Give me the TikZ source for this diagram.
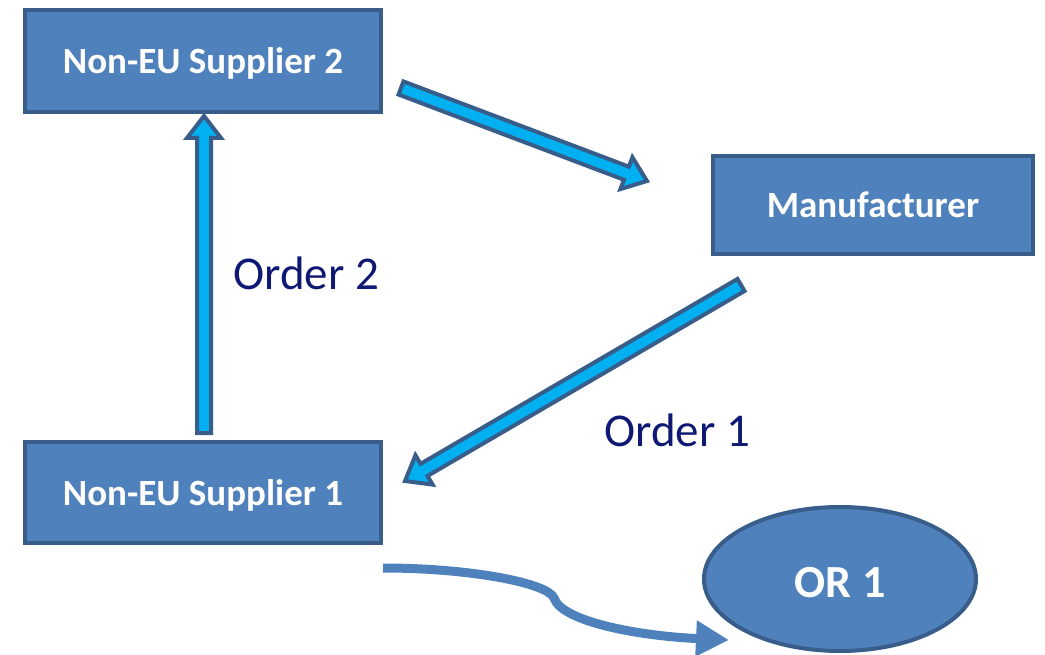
\documentclass[tikz,border=0pt]{standalone}
\usepackage{fontspec}
\setmainfont{Carlito}
\usetikzlibrary{calc,arrows.meta,shapes.geometric}
\definecolor{boxfill}{RGB}{79,129,189}
\definecolor{boxline}{RGB}{56,93,138}
\definecolor{arrowfill}{RGB}{0,176,240}
\definecolor{navytext}{RGB}{15,25,115}
\tikzset{
  boxnode/.style={draw=boxline, fill=boxfill, line width=4pt, text=white,
    font=\bfseries\fontsize{37}{40}\selectfont, inner sep=0pt,
    text height=25pt, text depth=0pt},
  ovalnode/.style={draw=boxline, fill=boxfill, line width=4pt, text=white,
    font=\bfseries\fontsize{46}{50}\selectfont, ellipse, inner sep=0pt,
    text height=36pt, text depth=0pt},
  ordertext/.style={text=navytext, font=\fontsize{47}{50}\selectfont, inner sep=0pt, anchor=base},
  blockarrowstyle/.style={draw=boxline, fill=arrowfill, line width=4pt, line join=miter},
  curvearrow/.style={draw=boxfill, line width=9pt, -{Triangle[length=33pt,width=34pt]}}
}
\newcommand\blockarrow[2]{%
  \draw[blockarrowstyle] let \p1=($(#2)-(#1)$), \n1={atan2(\y1,\x1)}, \n2={veclen(\x1,\y1)} in
    [shift={(#1)}, rotate=\n1]
    (0pt,-7pt) -- (\n2-22pt,-7pt) -- (\n2-22pt,-17pt) -- (\n2,0pt) --
    (\n2-22pt,17pt) -- (\n2-22pt,7pt) -- (0pt,7pt) -- cycle;}
\begin{document}
\begin{tikzpicture}[x=1pt,y=-1pt]
\useasboundingbox (0,0) rectangle (1045,655);
\node[boxnode, minimum width=356pt, minimum height=102pt] (s2) at (203,61) {Non-EU Supplier 2};
\node[boxnode, minimum width=320pt, minimum height=98pt] (man) at (873,205) {Manufacturer};
\node[boxnode, minimum width=356pt, minimum height=101pt] (s1) at (203,492.5) {Non-EU Supplier 1};
\node[ovalnode, minimum width=272pt, minimum height=144pt] (or) at (840,579) {OR 1};
\node[ordertext] (o2) at (306,290) {Order 2};
\node[ordertext] (o1) at (677,446) {Order 1};
% block arrows
\coordinate (a1s) at ($(s1.north)+(1,-7)$);
\coordinate (a1e) at ($(s2.south)+(1,2)$);
\coordinate (a2s) at (401,88);
\coordinate (a2e) at (647,181);
\coordinate (a3s) at (741,285);
\coordinate (a3e) at (405,481);
\blockarrow{a1s}{a1e}
\blockarrow{a2s}{a2e}
\blockarrow{a3s}{a3e}
% curved arrow
\coordinate (cs) at (383,568);
\coordinate (ce) at (729,640);
\draw[curvearrow] (cs) .. controls (470,568) and (548,583) .. (554,598)
  .. controls (562,622) and (640,636) .. (ce);
\end{tikzpicture}
\end{document}
